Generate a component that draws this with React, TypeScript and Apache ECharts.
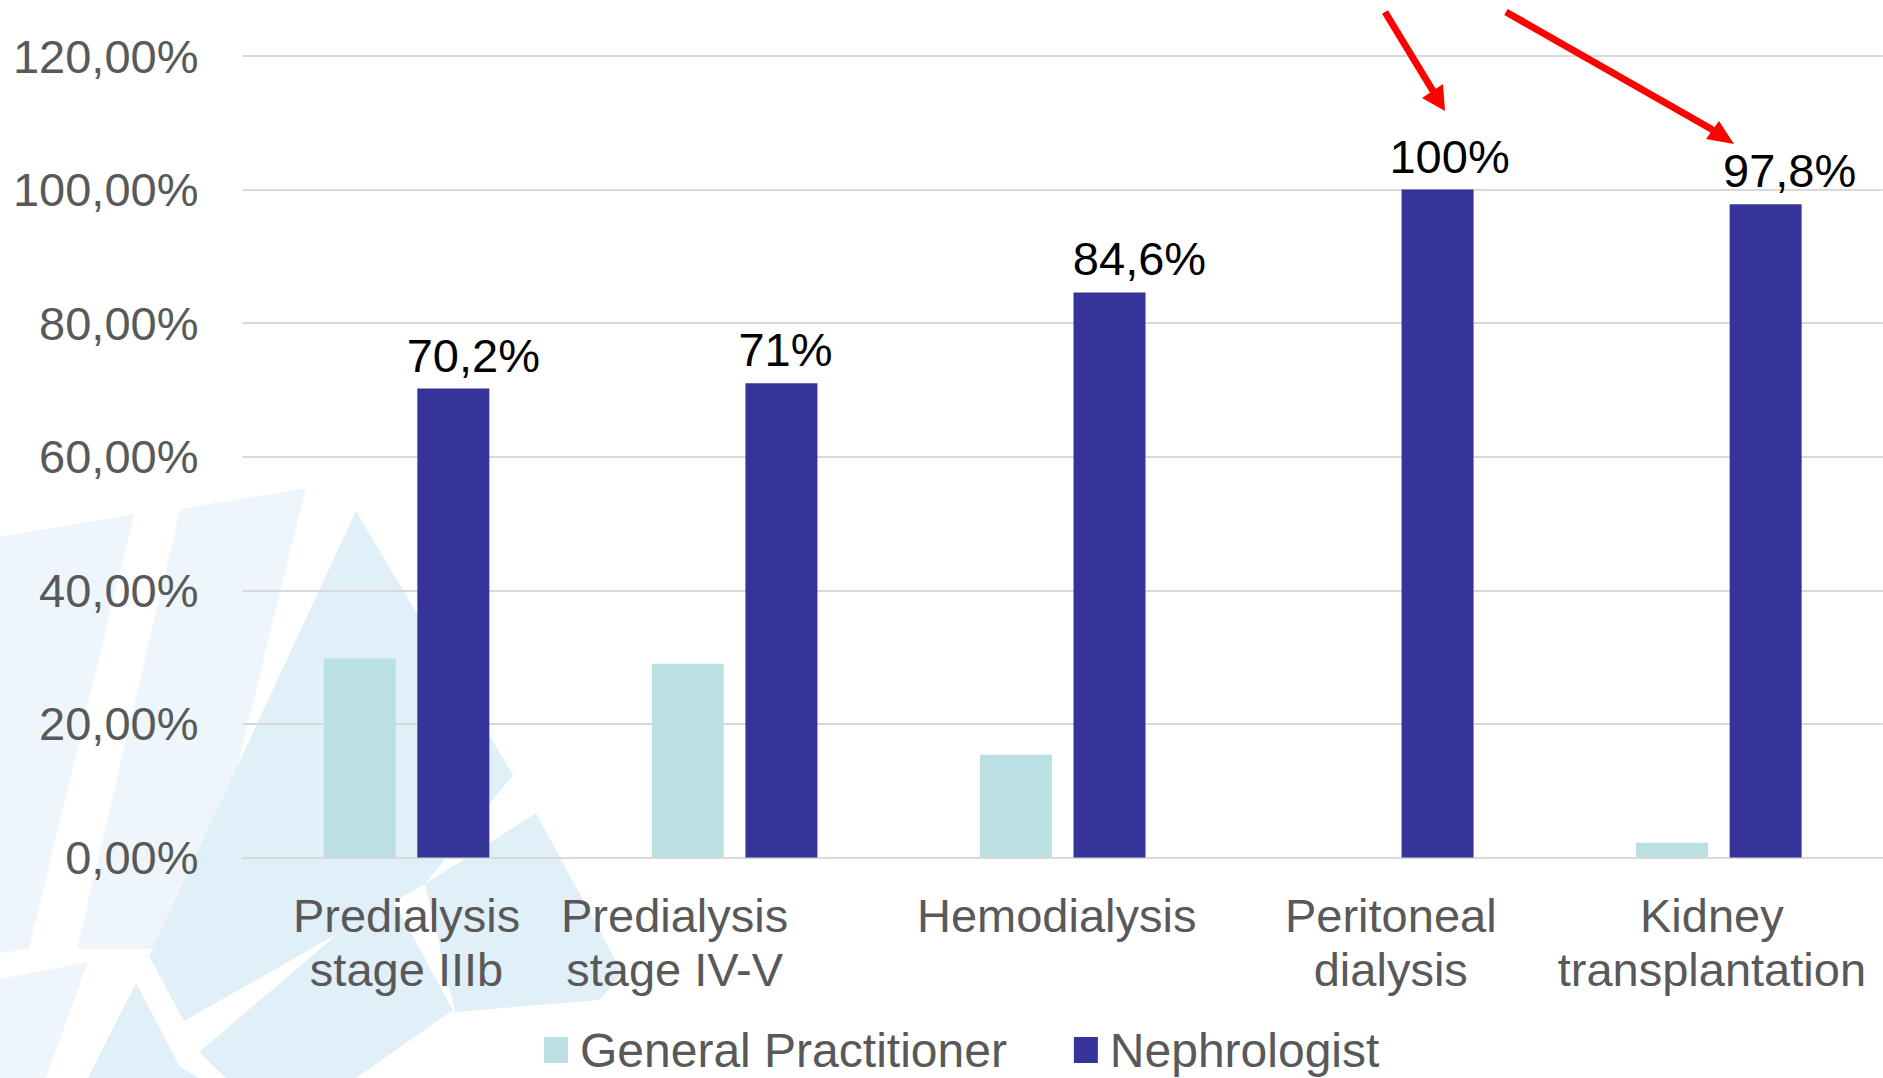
import React, { useEffect, useRef } from 'react';
import * as echarts from 'echarts';

const categories = [
  'Predialysis\nstage IIIb',
  'Predialysis\nstage IV-V',
  'Hemodialysis',
  'Peritoneal\ndialysis',
  'Kidney\ntransplantation',
];
const seriesNames = ['General Practitioner', 'Nephrologist'];
const gpValues = [29.8, 29, 15.4, 0, 2.2];
const nephValues = [70.2, 71, 84.6, 100, 97.8];
const yMin = 0;
const yMax = 120;
const yStep = 20;

// styling: horizontal nudges of value labels and category labels (px)
const labelNudgeX = [20, 4, 30, 12, 24];
const categoryLabelPadRight = [0, 120, 12, 0, 14];

const FONT = '"Liberation Sans", Arial, Helvetica, sans-serif';
const PALE = '#EEF6FB';
const DARK = '#E1EFF9';

// decorative background (slide pattern)
const paleShapes: number[][][] = [
  [[0, 537], [134, 514], [29, 949], [0, 953]],
  [[180, 509], [306, 488], [192, 949], [77, 949]],
  [[0, 979], [88, 962], [46, 1078], [0, 1078]],
];
const darkShapes: number[][][] = [
  [[356, 511], [513, 775], [425, 884], [184, 1021], [149, 956]],
  [[136, 983], [180, 1067], [199, 1078], [88, 1078]],
  [[388, 891], [453, 1010], [356, 1078], [226, 1078], [199, 1052]],
  [[536, 813], [622, 972], [600, 1000], [455, 1012], [425, 884]],
];

export default function App() {
  const ref = useRef<HTMLDivElement>(null);
  useEffect(() => {
    if (!ref.current) return;
    const chart = echarts.init(ref.current, undefined, { renderer: 'svg' });

    const bg: any[] = [];
    paleShapes.forEach((pts) =>
      bg.push({ type: 'polygon', z: -10, silent: true, shape: { points: pts }, style: { fill: PALE } })
    );
    darkShapes.forEach((pts) =>
      bg.push({ type: 'polygon', z: -9, silent: true, shape: { points: pts }, style: { fill: DARK } })
    );
    const red = '#FF0000';
    const arrows: any[] = [
      { type: 'line', z: 100, shape: { x1: 1385, y1: 12, x2: 1433, y2: 91 }, style: { stroke: red, lineWidth: 7 } },
      { type: 'polygon', z: 100, shape: { points: [[1422, 98], [1443, 84], [1445, 111]] }, style: { fill: red } },
      { type: 'line', z: 100, shape: { x1: 1506, y1: 12, x2: 1713, y2: 130 }, style: { stroke: red, lineWidth: 7 } },
      { type: 'polygon', z: 100, shape: { points: [[1706, 139], [1719, 121], [1734, 144]] }, style: { fill: red } },
    ];

    const labelText = (v: number) => String(v).replace('.', ',') + '%';

    chart.setOption({
      animation: false,
      backgroundColor: '#FFFFFF',
      graphic: { elements: [...bg, ...arrows] },
      grid: { left: 242.5, right: 0, top: 56, bottom: 220.5, containLabel: false },
      legend: {
        data: seriesNames,
        left: 539,
        top: 1021,
        icon: 'rect',
        itemWidth: 24,
        itemHeight: 26,
        itemGap: 67,
        textStyle: { fontFamily: FONT, fontSize: 48, color: '#595959', padding: [0, 0, 0, 7], lineHeight: 47 },
      },
      xAxis: {
        type: 'category',
        data: categories.map((c, i) =>
          categoryLabelPadRight[i] ? { value: c, textStyle: { padding: [0, categoryLabelPadRight[i], 0, 0] } } : c
        ),
        axisLine: { show: true, lineStyle: { color: '#D9D9D9', width: 2 } },
        axisTick: { show: false },
        axisLabel: {
          interval: 0,
          margin: 31,
          fontFamily: FONT,
          fontSize: 47,
          lineHeight: 54,
          color: '#595959',
        },
      },
      yAxis: {
        type: 'value',
        min: yMin,
        max: yMax,
        interval: yStep,
        axisLine: { show: false },
        axisTick: { show: false },
        splitLine: { lineStyle: { color: '#D9D9D9', width: 2 } },
        axisLabel: {
          margin: 44,
          fontFamily: FONT,
          fontSize: 47,
          color: '#595959',
          formatter: (v: number) => `${v},00%`,
        },
      },
      series: [
        {
          name: seriesNames[0],
          type: 'bar',
          data: gpValues,
          barWidth: 72,
          barGap: '30%',
          itemStyle: { color: '#BAE0E3' },
        },
        {
          name: seriesNames[1],
          type: 'bar',
          data: nephValues.map((v, i) => ({ value: v, label: { offset: [labelNudgeX[i], 0] } })),
          barWidth: 72,
          itemStyle: { color: '#353498' },
          label: {
            show: true,
            position: 'top',
            distance: 10,
            fontFamily: FONT,
            fontSize: 47,
            color: '#000000',
            formatter: (p: any) => labelText(p.value),
          },
        },
      ],
    });
    return () => chart.dispose();
  }, []);

  return (
    <div
      ref={ref}
      style={{ position: 'fixed', left: 0, top: 0, width: 1883, height: 1078, background: '#FFFFFF' }}
    />
  );
}
